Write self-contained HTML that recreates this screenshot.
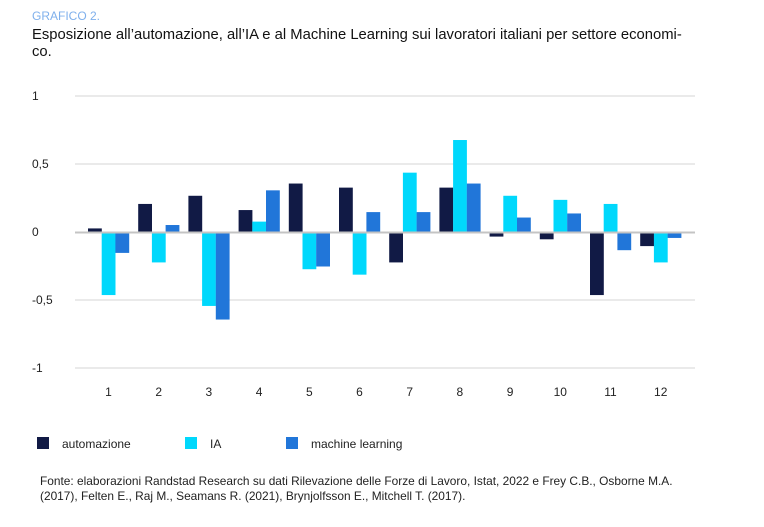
<!DOCTYPE html>
<html><head><meta charset="utf-8"><style>
body{margin:0;background:#fff;width:764px;height:522px;overflow:hidden;font-family:"Liberation Sans",sans-serif;}
</style></head><body>
<svg width="764" height="522" xmlns="http://www.w3.org/2000/svg" font-family="Liberation Sans, sans-serif">
<text x="32" y="20" font-size="12" fill="#7fb0ec">GRAFICO 2.</text>
<text x="32" y="39" font-size="14.8" fill="#111">Esposizione all’automazione, all’IA e al Machine Learning sui lavoratori italiani per settore economi-</text>
<text x="32" y="56" font-size="14.8" fill="#111">co.</text>
<g stroke="#e3e3e3" stroke-width="1.5">
<line x1="75" x2="695" y1="96" y2="96"/>
<line x1="75" x2="695" y1="164" y2="164"/>
<line x1="75" x2="695" y1="300" y2="300"/>
<line x1="75" x2="695" y1="368" y2="368"/>
</g>
<g font-size="12" fill="#222">
<text x="32" y="100">1</text>
<text x="32" y="168">0,5</text>
<text x="32" y="236">0</text>
<text x="32" y="304">-0,5</text>
<text x="32" y="372">-1</text>
</g>
<g id="bars"></g>
<line x1="75" x2="695" y1="232.5" y2="232.5" stroke="#c4c4c4" stroke-width="2"/>
<g font-size="12" fill="#222" text-anchor="middle" id="xl"></g>
<rect x="37" y="437" width="12" height="12" fill="#111a45"/>
<text x="62" y="448" font-size="12" fill="#222">automazione</text>
<rect x="185" y="437" width="12" height="12" fill="#00d8fc"/>
<text x="210" y="448" font-size="12" fill="#222">IA</text>
<rect x="286" y="437" width="12" height="12" fill="#2176d9"/>
<text x="311" y="448" font-size="12" fill="#222">machine learning</text>
<text x="40" y="485" font-size="11.9" fill="#222">Fonte: elaborazioni Randstad Research su dati Rilevazione delle Forze di Lavoro, Istat, 2022 e Frey C.B., Osborne M.A.</text>
<text x="40" y="500" font-size="11.9" fill="#222">(2017), Felten E., Raj M., Seamans R. (2021), Brynjolfsson E., Mitchell T. (2017).</text>
</svg>
<script>
var d=[[0.03,-0.46,-0.15],[0.21,-0.22,0.055],[0.27,-0.54,-0.64],[0.165,0.08,0.31],[0.36,-0.27,-0.25],[0.33,-0.31,0.15],[-0.22,0.44,0.15],[0.33,0.68,0.36],[-0.03,0.27,0.11],[-0.05,0.24,0.14],[-0.46,0.21,-0.13],[-0.10,-0.22,-0.04]];
var c=["#111a45","#00d8fc","#2176d9"],ns="http://www.w3.org/2000/svg",g=document.getElementById("bars"),xl=document.getElementById("xl");
d.forEach(function(r,i){var cx=108.5+i*50.2;r.forEach(function(v,j){var e=document.createElementNS(ns,"rect");var x=cx-20.5+j*13.7;var y0=232.5,y1=232.5-v*136;e.setAttribute("x",x);e.setAttribute("width",13.8);e.setAttribute("y",Math.min(y0,y1));e.setAttribute("height",Math.abs(y1-y0));e.setAttribute("fill",c[j]);g.appendChild(e);});
var t=document.createElementNS(ns,"text");t.setAttribute("x",cx);t.setAttribute("y",396);t.textContent=i+1;xl.appendChild(t);});
</script>
</body></html>
